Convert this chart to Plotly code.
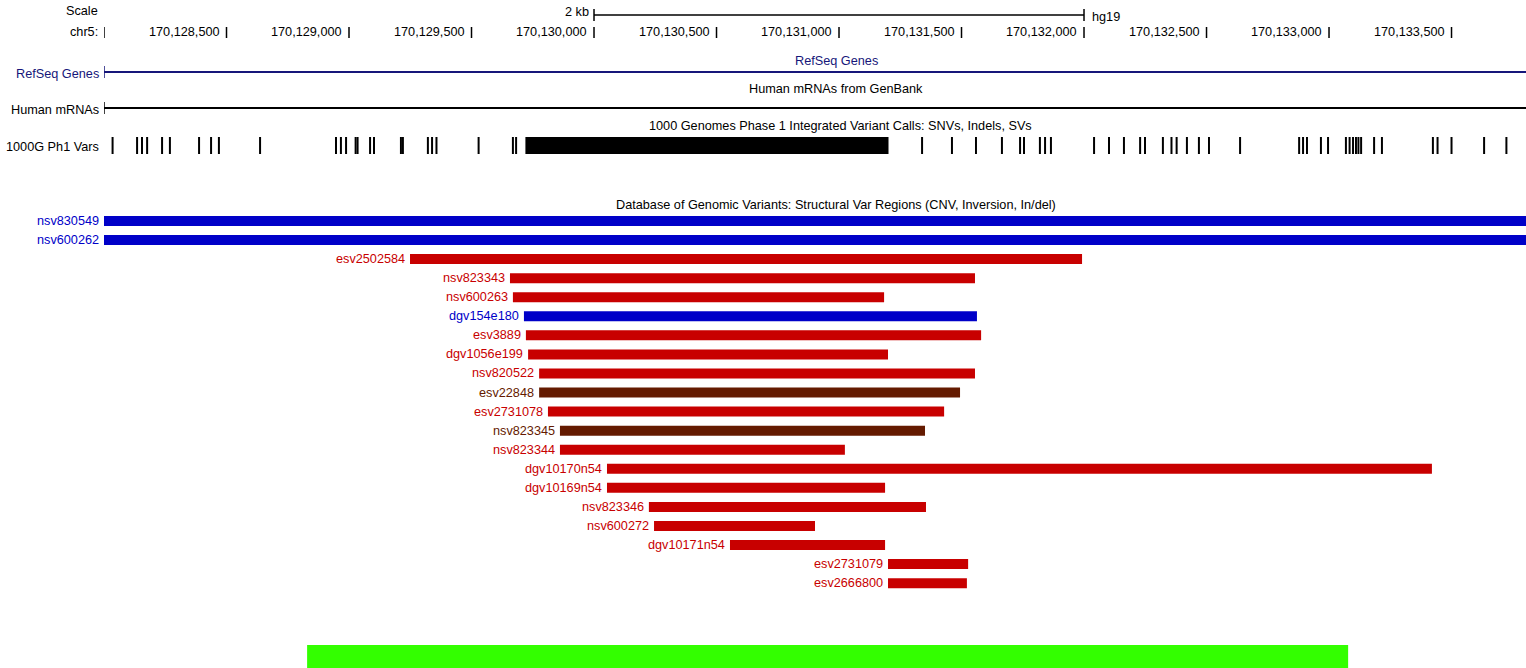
import plotly.graph_objects as go

# ---------------- data ----------------
VIEW_START = 170128000
VIEW_END = 170133804

pos_ticks = [170128500, 170129000, 170129500, 170130000, 170130500,
             170131000, 170131500, 170132000, 170132500, 170133000, 170133500]
pos_tick_labels = ["170,128,500", "170,129,000", "170,129,500", "170,130,000",
                   "170,130,500", "170,131,000", "170,131,500", "170,132,000",
                   "170,132,500", "170,133,000", "170,133,500"]

scale_bar_start = 170130000
scale_bar_end = 170132000
scale_bar_label = "2 kb"
assembly = "hg19"

# 1000 Genomes Phase 1 variant sites (single-site ticks)
kg_sites = [170128035, 170128135, 170128155, 170128176, 170128237, 170128269,
            170128388, 170128437, 170128469, 170128637, 170128947, 170128967,
            170128988, 170129027, 170129035, 170129086, 170129102, 170129212,
            170129220, 170129322, 170129339, 170129357, 170129529, 170129669,
            170129682, 170131339, 170131461, 170131559, 170131665, 170131739,
            170131755, 170131820, 170131841, 170131865, 170132041, 170132102,
            170132163, 170132229, 170132249, 170132322, 170132357, 170132378,
            170132420, 170132469, 170132510, 170132637, 170132878, 170132894,
            170132910, 170132967, 170132996, 170133069, 170133084, 170133098,
            170133110, 170133120, 170133131, 170133184, 170133216, 170133424,
            170133443, 170133500, 170133633, 170133724]
# 1000 Genomes structural variant (deletion block)
kg_sv_start = 170129720
kg_sv_end = 170131202

# Database of Genomic Variants
dgv_names = ["nsv830549", "nsv600262", "esv2502584", "nsv823343", "nsv600263",
             "dgv154e180", "esv3889", "dgv1056e199", "nsv820522", "esv22848",
             "esv2731078", "nsv823345", "nsv823344", "dgv10170n54", "dgv10169n54",
             "nsv823346", "nsv600272", "dgv10171n54", "esv2731079", "esv2666800"]
dgv_starts = [170126000, 170126000, 170129249, 170129657, 170129669,
              170129714, 170129722, 170129731, 170129776, 170129776,
              170129812, 170129861, 170129861, 170130053, 170130053,
              170130224, 170130245, 170130555, 170131200, 170131200]
dgv_ends = [170136000, 170136000, 170131992, 170131555, 170131184,
            170131563, 170131580, 170131200, 170131555, 170131494,
            170131429, 170131351, 170131024, 170133420, 170131188,
            170131355, 170130902, 170131188, 170131527, 170131522]
dgv_types = ["gain", "gain", "loss", "loss", "loss",
             "gain", "loss", "loss", "loss", "gain+loss",
             "loss", "gain+loss", "loss", "loss", "loss",
             "loss", "loss", "loss", "loss", "loss"]

# highlighted region (green)
hl_start = 170128829
hl_end = 170133078

# ---------------- style / layout ----------------
W, H = 1526, 668
LEFT = 104
FONT = "Liberation Sans, Arial, sans-serif"
FS = 12.7
COLORS = {"gain": "#0000c8", "loss": "#c80000", "gain+loss": "#641a00"}
NAVY = "#16167a"
DGV_ROW0 = 221
DGV_STEP = 19.06
BAR_H = 10
CENTER_X = (836 - LEFT) / (W - LEFT)  # in-track title centre (plot fraction)

fig = go.Figure()


def clip(v):
    return min(max(v, VIEW_START), VIEW_END)


def vlines(xs, y0, y1, color, width, name):
    xx, yy = [], []
    for x in xs:
        xx += [x, x, None]
        yy += [y0, y1, None]
    fig.add_trace(go.Scatter(x=xx, y=yy, mode="lines", line=dict(color=color, width=width),
                             hoverinfo="skip", showlegend=False, cliponaxis=False, name=name))


def hline(x0, x1, y, color, width, name):
    fig.add_trace(go.Scatter(x=[x0, x1], y=[y, y], mode="lines",
                             line=dict(color=color, width=width),
                             hoverinfo="skip", showlegend=False, cliponaxis=False, name=name))


def text(x, y, s, color="#000000", anchor="right", xref="x", xshift=0, size=FS):
    fig.add_annotation(x=x, y=y, xref=xref, yref="y", text=s, showarrow=False,
                       xanchor=anchor, yanchor="middle", xshift=xshift,
                       font=dict(family=FONT, size=size, color=color))


# ---- scale bar ----
text(0, 11, "Scale", xref="paper", xshift=-4)
hline(scale_bar_start, scale_bar_end, 15, "#000000", 1.5, "scalebar")
vlines([scale_bar_start, scale_bar_end], 9, 21, "#000000", 1.5, "scalecaps")
text(scale_bar_start, 12, scale_bar_label, xshift=-3)
text(scale_bar_end, 17, assembly, anchor="left", xshift=6)

# ---- base position ruler ----
text(0, 32, "chr5:", xref="paper", xshift=-4)
vlines([VIEW_START] + pos_ticks, 27, 38, "#000000", 1.5, "ruler")
for p, lab in zip(pos_ticks, pos_tick_labels):
    text(p, 32, lab, xshift=-5)

# ---- RefSeq genes ----
text(0, 74, "RefSeq Genes", color=NAVY, xref="paper", xshift=-3)
text(CENTER_X, 61, "RefSeq Genes", color=NAVY, anchor="center", xref="paper")
hline(VIEW_START, VIEW_END, 72, NAVY, 2, "refseq")
vlines([VIEW_START], 66, 78, NAVY, 1.5, "refseqcap")

# ---- Human mRNAs ----
text(0, 110, "Human mRNAs", xref="paper", xshift=-3)
text(CENTER_X, 89, "Human mRNAs from GenBank", anchor="center", xref="paper")
hline(VIEW_START, VIEW_END, 108, "#000000", 2, "mrna")
vlines([VIEW_START], 102, 114, "#000000", 1.5, "mrnacap")

# ---- 1000 Genomes ----
text(0, 147, "1000G Ph1 Vars", xref="paper", xshift=-3)
vlines(kg_sites, 137, 154, "#000000", 2, "kg")
fig.add_trace(go.Bar(orientation="h", y=[145.5], base=[kg_sv_start],
                     x=[kg_sv_end - kg_sv_start], width=17,
                     marker=dict(color="#000000", line=dict(width=0)),
                     hoverinfo="skip", showlegend=False))
text(CENTER_X + 4 / (W - LEFT), 126,
     "1000 Genomes Phase 1 Integrated Variant Calls: SNVs, Indels, SVs",
     anchor="center", xref="paper")

# ---- DGV ----
text(CENTER_X, 205, "Database of Genomic Variants: Structural Var Regions (CNV, Inversion, In/del)",
     anchor="center", xref="paper")
rows = [DGV_ROW0 + i * DGV_STEP for i in range(len(dgv_names))]
cs = [clip(s) for s in dgv_starts]
ce = [clip(e) for e in dgv_ends]
fig.add_trace(go.Bar(orientation="h", y=rows, base=cs, x=[e - s for s, e in zip(cs, ce)],
                     width=BAR_H,
                     marker=dict(color=[COLORS[t] for t in dgv_types], line=dict(width=0)),
                     hoverinfo="skip", showlegend=False))
for n, s, y, t in zip(dgv_names, cs, rows, dgv_types):
    text(s, y, n, color=COLORS[t], xshift=-3)

# ---- highlight ----
fig.add_trace(go.Bar(orientation="h", y=[656.5], base=[hl_start], x=[hl_end - hl_start],
                     width=23, marker=dict(color="#33ff00", line=dict(width=0)),
                     hoverinfo="skip", showlegend=False))

fig.update_layout(
    width=W, height=H, margin=dict(l=LEFT, r=0, t=0, b=0),
    paper_bgcolor="white", plot_bgcolor="white", barmode="overlay",
    xaxis=dict(range=[VIEW_START, VIEW_END], visible=False, fixedrange=True),
    yaxis=dict(range=[H, 0], visible=False, fixedrange=True),
    showlegend=False,
)

fig.write_html("out.html", config={"displayModeBar": False},
               post_script="document.body.style.margin='0';document.body.style.padding='0';")
